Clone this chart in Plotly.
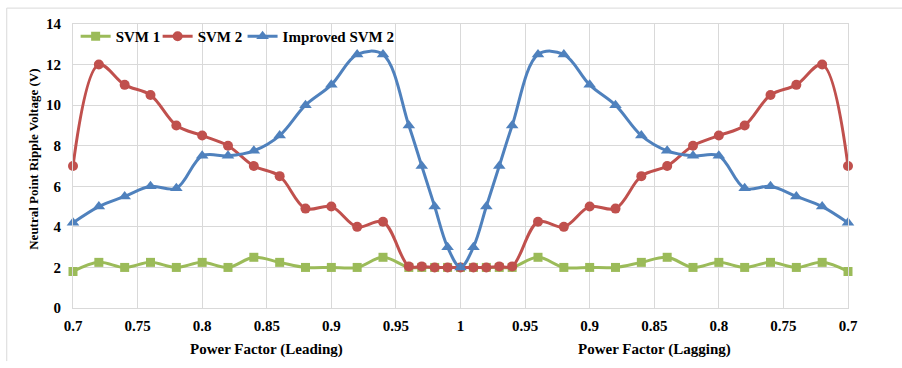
import plotly.graph_objects as go

# Power factor categories (leading side, unity, lagging side)
pf_leading = [0.70, 0.72, 0.74, 0.76, 0.78, 0.80, 0.82, 0.84, 0.86, 0.88,
              0.90, 0.92, 0.94, 0.96, 0.97, 0.98, 0.99]
pf_unity = [1.0]
pf_lagging = [0.99, 0.98, 0.97, 0.96, 0.94, 0.92, 0.90, 0.88, 0.86, 0.84,
              0.82, 0.80, 0.78, 0.76, 0.74, 0.72, 0.70]

svm1 = [1.8, 2.25, 2.0, 2.25, 2.0, 2.25, 2.0, 2.5, 2.25, 2.0, 2.0, 2.0, 2.5, 2.0, 2.0, 2.0, 2.0,
        2.0,
        2.0, 2.0, 2.0, 2.0, 2.5, 2.0, 2.0, 2.0, 2.25, 2.5, 2.0, 2.25, 2.0, 2.25, 2.0, 2.25, 1.8]
svm2 = [7.0, 12.0, 11.0, 10.5, 9.0, 8.5, 8.0, 7.0, 6.5, 4.9, 5.0, 4.0, 4.25, 2.05, 2.05, 2.0, 2.0,
        2.0,
        2.0, 2.0, 2.05, 2.05, 4.25, 4.0, 5.0, 4.9, 6.5, 7.0, 8.0, 8.5, 9.0, 10.5, 11.0, 12.0, 7.0]
improved_svm2 = [4.2, 5.0, 5.5, 6.0, 5.9, 7.5, 7.5, 7.75, 8.5, 10.0, 11.0, 12.5, 12.5, 9.0, 7.0, 5.0, 3.0,
                 2.0,
                 3.0, 5.0, 7.0, 9.0, 12.5, 12.5, 11.0, 10.0, 8.5, 7.75, 7.5, 7.5, 5.9, 6.0, 5.5, 5.0, 4.2]

tick_pf = [0.7, 0.75, 0.8, 0.85, 0.9, 0.95, 1.0, 0.95, 0.9, 0.85, 0.8, 0.75, 0.7]
tick_side = [-1] * 6 + [0] + [1] * 6
tick_text = ["0.7", "0.75", "0.8", "0.85", "0.9", "0.95", "1", "0.95", "0.9", "0.85", "0.8", "0.75", "0.7"]

# Position along the axis: signed distance from unity power factor
x_pos = ([round(pf - 1, 6) for pf in pf_leading] + [0.0 for _ in pf_unity]
         + [round(1 - pf, 6) for pf in pf_lagging])
tick_vals = [round(s * (1 - p), 6) for p, s in zip(tick_pf, tick_side)]

FONT = "Liberation Serif, Times New Roman, DejaVu Serif, serif"

fig = go.Figure()
series = [
    ("SVM 1", svm1, "#9BBB59", "square", 9, "legend"),
    ("SVM 2", svm2, "#C0504D", "circle", 10, "legend2"),
    ("Improved SVM 2", improved_svm2, "#4F81BD", "triangle-up", 11, "legend3"),
]
for name, ys, color, sym, size, lg in series:
    fig.add_trace(go.Scatter(
        x=x_pos, y=ys, name=name, mode="lines+markers",
        line=dict(color=color, width=3, shape="spline", smoothing=1.0),
        marker=dict(color=color, symbol=sym, size=size),
        cliponaxis=False, legend=lg, showlegend=True,
    ))

def legend_at(xp):
    return dict(orientation="h", x=xp, y=1.014, xanchor="left", yanchor="top",
                font=dict(family=FONT, size=15, color="black", weight="bold"),
                bgcolor="rgba(0,0,0,0)", itemwidth=30, visible=True)

fig.update_layout(
    width=902, height=368,
    margin=dict(l=73, r=54, t=24, b=60),
    paper_bgcolor="white", plot_bgcolor="white",
    font=dict(family=FONT, size=14, color="black"),
    showlegend=True,
    legend=legend_at(0.0034),
    legend2=legend_at(0.1092),
    legend3=legend_at(0.2188),
    xaxis=dict(range=[-0.3, 0.3], tickvals=tick_vals, ticktext=tick_text,
               showgrid=True, gridcolor="#d9d9d9", gridwidth=1,
               showline=True, linecolor="#d9d9d9", mirror=True, zeroline=False,
               ticks="", ticklabelstandoff=4,
               tickfont=dict(family=FONT, size=15, weight="bold")),
    yaxis=dict(range=[0, 14], dtick=2, tick0=0,
               showgrid=True, gridcolor="#d9d9d9", gridwidth=1,
               showline=True, linecolor="#d9d9d9", mirror=True, zeroline=False,
               ticks="", ticklabelstandoff=8,
               tickfont=dict(family=FONT, size=15, weight="bold")),
    annotations=[
        dict(text="Neutral Point Ripple Voltage (V)", xref="paper", yref="paper",
             x=-0.0503, y=0.522, textangle=-90, xanchor="center", yanchor="middle",
             showarrow=False, font=dict(family=FONT, size=13, weight="bold")),
        dict(text="Power Factor (Leading)", xref="x", yref="paper", x=-0.15, y=-0.145,
             xanchor="center", yanchor="middle", showarrow=False,
             font=dict(family=FONT, size=15, weight="bold")),
        dict(text="Power Factor (Lagging)", xref="x", yref="paper", x=0.15, y=-0.145,
             xanchor="center", yanchor="middle", showarrow=False,
             font=dict(family=FONT, size=15, weight="bold")),
    ],
    shapes=[
        dict(type="line", xref="paper", yref="paper", x0=-0.0855, x1=1.2, y0=1.056, y1=1.056,
             line=dict(color="#d9d9d9", width=1)),
        dict(type="line", xref="paper", yref="paper", x0=-0.0855, x1=-0.0855, y0=1.056, y1=-0.187,
             line=dict(color="#d9d9d9", width=1)),
    ],
)

fig.write_html("out.html")
